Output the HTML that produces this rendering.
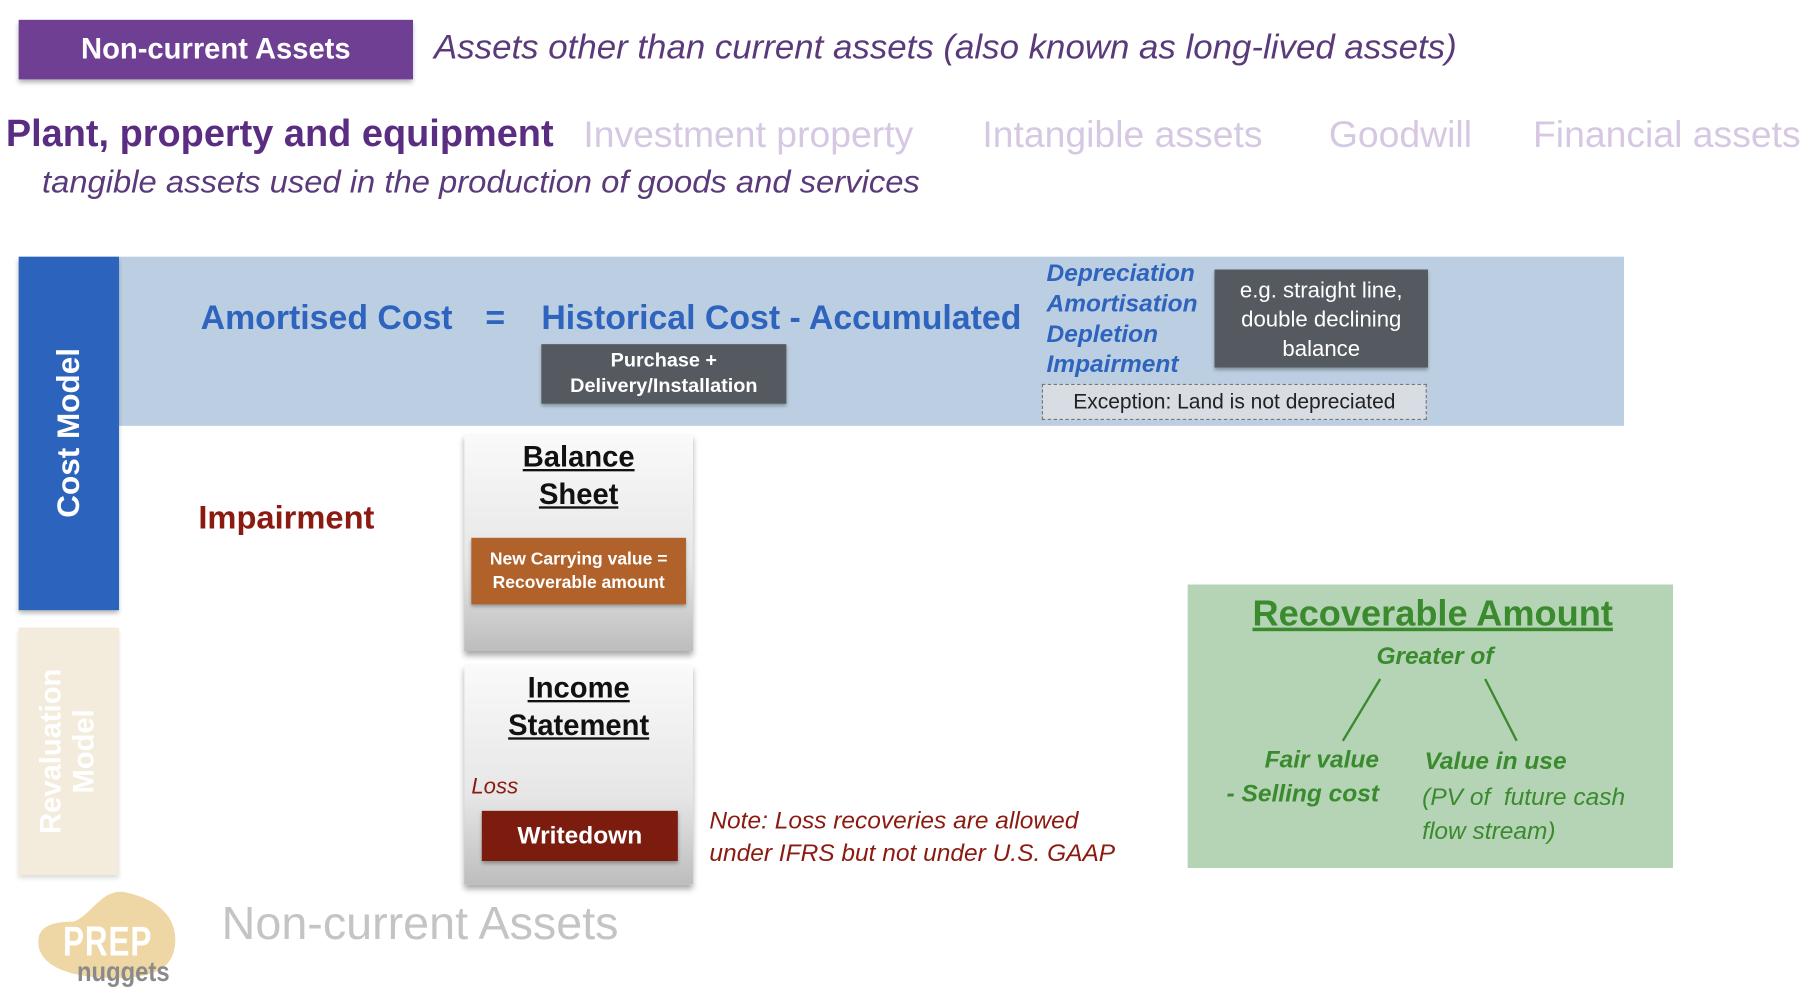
<!DOCTYPE html>
<html><head><meta charset="utf-8"><style>
html,body{margin:0;padding:0;background:#fff;overflow:hidden}
body{width:1820px;height:1002px;position:relative}
#w{position:absolute;left:0;top:0;width:1560px;height:859px;transform:scale(1.16667);transform-origin:0 0;font-family:"Liberation Sans",sans-serif}
.a{position:absolute;white-space:nowrap}
.card{position:absolute;background:linear-gradient(#fafafa,#e6e6e6 60%,#bdbdbd);box-shadow:0 4px 5px rgba(0,0,0,.35)}
</style></head><body><div id="w">
<div class="a" style="left:16px;top:17px;width:338px;height:51px;background:#6f3f93;box-shadow:0 3px 4px rgba(0,0,0,.3);color:#fff;font-weight:bold;font-size:25px;line-height:51px;text-align:center">Non-current Assets</div>
<div class="a" style="left:372px;top:25px;font-style:italic;font-size:29px;color:#5a3a7a;transform:scaleX(1.03);transform-origin:0 0">Assets other than current assets (also known as long-lived assets)</div>
<div class="a" style="left:5px;top:96px;font-weight:bold;font-size:32.5px;color:#5b2d82">Plant, property and equipment</div>
<div class="a" style="left:500px;top:97px;font-size:32px;color:#d6c8e2">Investment property</div>
<div class="a" style="left:842px;top:97px;font-size:32px;color:#d6c8e2">Intangible assets</div>
<div class="a" style="left:1139px;top:97px;font-size:32px;color:#d6c8e2">Goodwill</div>
<div class="a" style="left:1314px;top:97px;font-size:32px;color:#d6c8e2">Financial assets</div>
<div class="a" style="left:36px;top:141px;font-style:italic;font-size:27px;color:#5a3a7a;transform:scaleX(1.04);transform-origin:0 0">tangible assets used in the production of goods and services</div>

<div class="a" style="left:102px;top:220px;width:1290px;height:145px;background:#bccfe2"></div>
<div class="a" style="left:16px;top:220px;width:86px;height:303px;background:#2b63bd;box-shadow:0 3px 4px rgba(0,0,0,.3)"></div>
<div class="a" style="left:59px;top:371px;transform:translate(-50%,-50%) rotate(-90deg);color:#fff;font-weight:bold;font-size:27px">Cost Model</div>
<div class="a" style="left:16px;top:538px;width:86px;height:212px;background:#f3ecdc;box-shadow:0 3px 4px rgba(0,0,0,.15)"></div>
<div class="a" style="left:58px;top:644px;transform:translate(-50%,-50%) rotate(-90deg);color:#fff;font-weight:bold;font-size:25px;text-align:center;line-height:28px">Revaluation<br>Model</div>

<div class="a" style="left:172px;top:257px;font-weight:bold;font-size:29px;color:#2e64be">Amortised Cost</div>
<div class="a" style="left:416px;top:257px;font-weight:bold;font-size:29px;color:#2e64be">=</div>
<div class="a" style="left:464px;top:257px;font-weight:bold;font-size:29px;color:#2e64be">Historical Cost - Accumulated</div>
<div class="a" style="left:464px;top:295px;width:210px;height:51px;background:#555a60;box-shadow:0 2px 3px rgba(0,0,0,.3);color:#fff;font-weight:bold;font-size:17px;text-align:center;line-height:22px;padding-top:3px;box-sizing:border-box">Purchase +<br>Delivery/Installation</div>
<div class="a" style="left:897px;top:222px;font-weight:bold;font-style:italic;font-size:21px;line-height:26px;color:#2e64be">Depreciation<br>Amortisation<br>Depletion<br>Impairment</div>
<div class="a" style="left:1041px;top:231px;width:183px;height:84px;background:#555a60;box-shadow:0 2px 3px rgba(0,0,0,.3);color:#fff;font-size:19px;line-height:25px;text-align:center;padding-top:6px;box-sizing:border-box">e.g. straight line,<br>double declining<br>balance</div>
<div class="a" style="left:893px;top:329px;width:330px;height:31px;background:#d8dde3;border:1px dashed #777;box-sizing:border-box;font-size:18px;line-height:29px;text-align:center;color:#222">Exception: Land is not depreciated</div>

<div class="a" style="left:170px;top:428px;font-weight:bold;font-size:28px;color:#8b1a10">Impairment</div>

<div class="card" style="left:398px;top:372px;width:196px;height:186px"></div>
<div class="a" style="left:398px;top:376px;width:196px;text-align:center;font-weight:bold;font-size:25px;line-height:32px;text-decoration:underline;color:#111">Balance<br>Sheet</div>
<div class="a" style="left:404px;top:461px;width:184px;height:57px;background:#b0622a;box-shadow:0 2px 3px rgba(0,0,0,.3);color:#fff;font-weight:bold;font-size:15px;line-height:20px;text-align:center;padding-top:9px;box-sizing:border-box">New Carrying value =<br>Recoverable amount</div>

<div class="card" style="left:398px;top:570px;width:196px;height:188px"></div>
<div class="a" style="left:398px;top:574px;width:196px;text-align:center;font-weight:bold;font-size:25px;line-height:32px;text-decoration:underline;color:#111">Income<br>Statement</div>
<div class="a" style="left:404px;top:664px;font-style:italic;font-size:19px;color:#8b1a10">Loss</div>
<div class="a" style="left:413px;top:695px;width:168px;height:43px;background:#7b1c0e;box-shadow:0 2px 3px rgba(0,0,0,.3);color:#fff;font-weight:bold;font-size:21px;line-height:43px;text-align:center">Writedown</div>
<div class="a" style="left:608px;top:690px;font-style:italic;font-size:21px;line-height:28px;color:#8b1a10">Note: Loss recoveries are allowed<br>under IFRS but not under U.S. GAAP</div>

<div class="a" style="left:1018px;top:501px;width:416px;height:243px;background:#b5d3b5"></div>
<div class="a" style="left:1018px;top:508px;width:420px;text-align:center;font-weight:bold;font-size:31px;color:#3a8a2e;text-decoration:underline">Recoverable Amount</div>
<div class="a" style="left:1018px;top:551px;width:424px;text-align:center;font-weight:bold;font-style:italic;font-size:21px;color:#3a8a2e">Greater of</div>
<svg class="a" style="left:0;top:0" width="1560" height="859"><g stroke="#3a8a2e" stroke-width="2"><line x1="1183" y1="582" x2="1151" y2="635"/><line x1="1273" y1="582" x2="1300" y2="635"/></g></svg>
<div class="a" style="left:1020px;top:637px;width:162px;text-align:right;font-weight:bold;font-style:italic;font-size:21px;line-height:29px;color:#3a8a2e">Fair value<br>- Selling cost</div>
<div class="a" style="left:1221px;top:641px;font-weight:bold;font-style:italic;font-size:21px;color:#3a8a2e">Value in use</div>
<div class="a" style="left:1219px;top:669px;font-style:italic;font-size:21px;line-height:29px;color:#3a8a2e">(PV of &nbsp;future cash<br>flow stream)</div>

<svg class="a" style="left:28px;top:760px" width="130" height="100"><path d="M35 30 C50 25 60 0 80 5 C105 10 125 25 122 50 C120 72 100 80 60 78 C20 76 3 62 5 45 C6 35 15 30 35 30Z" fill="#efd7a5"/></svg>
<div class="a" style="left:54px;top:786px;font-weight:bold;font-size:36px;color:#fff;transform:scaleX(.75);transform-origin:0 0;letter-spacing:1px">PREP</div>
<div class="a" style="left:66px;top:820px;font-weight:bold;font-size:24px;color:#8a8a8a;transform:scaleX(.85);transform-origin:0 0">nuggets</div>
<div class="a" style="left:190px;top:770px;font-size:40px;color:#c4c4c4">Non-current Assets</div>
</div></body></html>
